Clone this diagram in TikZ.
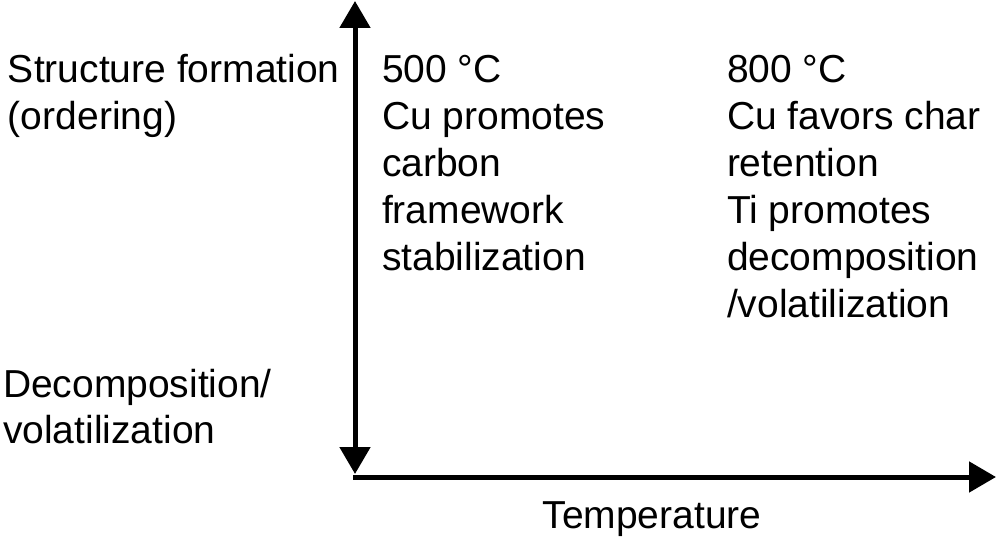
\documentclass[tikz,border=0pt]{standalone}
\usepackage{fontspec}
\setmainfont{Liberation Sans}
\usetikzlibrary{arrows.meta}
\begin{document}
\begin{tikzpicture}[x=1pt,y=-1pt,
  lbl/.style={anchor=base west,inner sep=0pt,outer sep=0pt,font=\fontsize{39}{47}\selectfont},
  axis/.style={line width=5pt,-{Triangle[width=30pt,length=27pt]}},
  daxis/.style={line width=5pt,{Triangle[width=30pt,length=27pt]}-{Triangle[width=30pt,length=27pt]}}]
\useasboundingbox (0,0) rectangle (1004,537);
\coordinate (O) at (353,477);
\coordinate (vb) at (355,474);
\coordinate (vt) at (355,1);
\coordinate (xe) at (996,477);
\draw[daxis] (vb) -- (vt);
\draw[axis] (O) -- (xe);
% left labels
\node[lbl] (l1) at (8,83) {Structure formation};
\node[lbl] (l2) at (8,130) {(ordering)};
\node[lbl] (l3) at (3,397) {Decomposition/};
\node[lbl] (l4) at (3,443) {volatilization};
% 500 C column
\node[lbl] (a1) at (382,83) {500 °C};
\node[lbl] (a2) at (382,130) {Cu promotes};
\node[lbl] (a3) at (382,177) {carbon};
\node[lbl] (a4) at (382,224) {framework};
\node[lbl] (a5) at (382,271) {stabilization};
% 800 C column
\node[lbl] (b1) at (727,83) {800 °C};
\node[lbl] (b2) at (727,130) {Cu favors char};
\node[lbl] (b3) at (727,177) {retention};
\node[lbl] (b4) at (727,224) {Ti promotes};
\node[lbl] (b5) at (727,271) {decomposition};
\node[lbl] (b6) at (727,318) {/volatilization};
% x label
\node[lbl,anchor=base] (t) at (652,528) {Temperature};
\end{tikzpicture}
\end{document}
